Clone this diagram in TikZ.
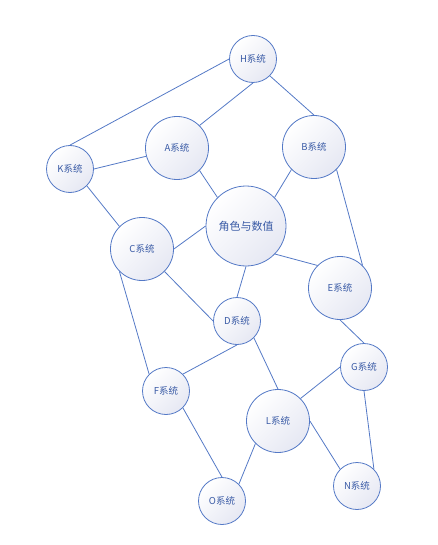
\documentclass[tikz,border=0pt]{standalone}
\usepackage{fontspec}
\setmainfont{Noto Sans CJK SC}
\definecolor{edgeblue}{HTML}{5479C6}
\definecolor{textblue}{HTML}{3A5BA6}
\definecolor{fillgrey}{HTML}{E6E8F3}

\begin{document}
\begin{tikzpicture}[x=1pt, y=-1pt,
		sys/.style={circle, draw=edgeblue, line width=0.8pt, inner sep=0pt,
			top color=white, bottom color=fillgrey, shading angle=45,
			text=textblue, font=\fontsize{9.5}{10}\selectfont},
		small/.style={sys, minimum size=47pt},
		mid/.style={sys, minimum size=63pt},
		big/.style={sys, minimum size=80pt, font=\fontsize{11}{12}\selectfont},
		link/.style={draw=edgeblue, line width=0.8pt}]
		%%%%% START %%%%%
		
		\useasboundingbox (0, 0) rectangle (437, 545);
		
		\node[small] (H) at (253, 59) {H系统};
		\node[mid] (A) at (177, 148) {A系统};
		\node[mid] (B) at (314, 147) {B系统};
		\node[small] (K) at (70, 169) {K系统};
		\node[big] (R) at (246, 226) {角色与数值};
		\node[mid] (C) at (142, 249) {C系统};
		\node[mid] (E) at (340, 288) {E系统};
		\node[small] (D) at (237, 321) {D系统};
		\node[small] (G) at (364, 367) {G系统};
		\node[small] (F) at (166, 391) {F系统};
		\node[mid] (L) at (278, 421) {L系统};
		\node[small] (O) at (222, 501) {O系统};
		\node[small] (N) at (357, 486) {N系统};
		
		\draw[link] (H.west) -- (K.north);
		\draw[link] (H.south) -- (A.45);
		\draw[link] (H.-45) -- (B.north);
		\draw[link] (K.east) -- (A.195);
		\draw[link] (K.-45) -- (C.135);
		
		\draw[link] (A.-45) -- (R.135);
		\draw[link] (B.225) -- (R.45);
		\draw[link] (B.-45) -- (E.45);
		
		\draw[link] (R.west) -- (C.east);
		\draw[link] (R.south) -- (D.north);
		\draw[link] (R.-44) -- (E.135);
		
		\draw[link] (C.-45) -- (D.west);
		\draw[link] (C.225) -- (F.135);
		\draw[link] (D.south) -- (F.45);
		\draw[link] (D.-45) -- (L.north);
		
		\draw[link] (E.south) -- (G.north);
		\draw[link] (G.west) -- (L.45);
		\draw[link] (G.south) -- (N.45);
		
		\draw[link] (F.-45) -- (O.north);
		\draw[link] (L.225) -- (O.45);
		\draw[link] (L.east) -- (N.135);
		
		%%%%% END %%%%%
	\end{tikzpicture}
\end{document}
